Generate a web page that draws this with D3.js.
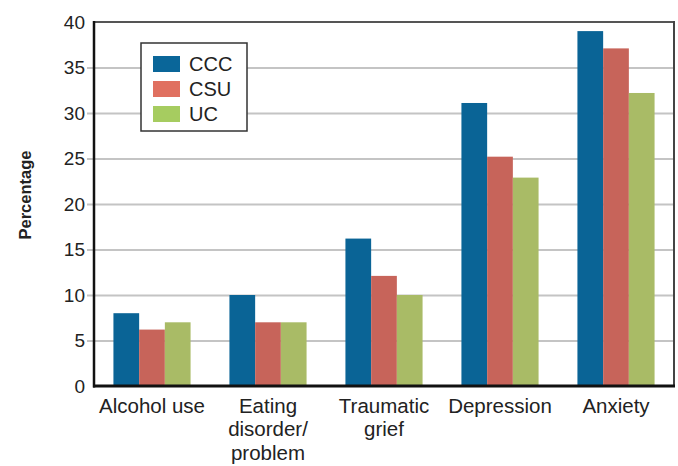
<!DOCTYPE html>
<html>
<head>
<meta charset="utf-8">
<script src="https://cdn.jsdelivr.net/npm/d3@7"></script>
<style>
  html, body { margin: 0; padding: 0; background: #fff; }
  svg { display: block; }
  text { font-family: "Liberation Sans", Arial, sans-serif; fill: #222; }
</style>
</head>
<body>
<svg id="chart" width="678" height="466"></svg>
<script>
// Percentage of students reporting each problem, by system
const categories = ["Alcohol use", "Eating disorder/ problem", "Traumatic grief", "Depression", "Anxiety"];
const categoryLines = [["Alcohol use"], ["Eating", "disorder/", "problem"], ["Traumatic", "grief"], ["Depression"], ["Anxiety"]];
const seriesNames = ["CCC", "CSU", "UC"];
const cccValues = [8, 10, 16.2, 31.1, 39];
const csuValues = [6.2, 7, 12.1, 25.2, 37.1];
const ucValues = [7, 7, 10, 22.9, 32.2];
const yTicks = [0, 5, 10, 15, 20, 25, 30, 35, 40];

const barColors = { CCC: "#0a6496", CSU: "#c7645a", UC: "#a9bb66" };
const swatchColors = { CCC: "#0a6699", CSU: "#e07060", UC: "#a6cc60" };

const values = { CCC: cccValues, CSU: csuValues, UC: ucValues };
const rows = categories.map((c, i) => ({
  category: c,
  lines: categoryLines[i],
  bars: seriesNames.map(s => ({ key: s, value: values[s][i] }))
}));

const svg = d3.select("#chart");
const plot = { left: 94, right: 674, top: 22, bottom: 386 };

const y = d3.scaleLinear().domain([0, 40]).range([plot.bottom, plot.top]);
const x0 = d3.scaleBand().domain(categories).range([plot.left, plot.right])
  .paddingInner(0.335).paddingOuter(0.1675);
const x1 = d3.scaleBand().domain(seriesNames).range([0, x0.bandwidth()]).padding(0);

// horizontal gridlines (extending slightly left as ticks)
const grid = svg.append("g").attr("transform", `translate(${plot.left},0)`)
  .call(d3.axisLeft(y).tickValues(yTicks.filter(t => t > 0 && t < 40))
    .tickSize(-(plot.right - plot.left)).tickFormat(""));
grid.select(".domain").remove();
grid.selectAll("line").attr("stroke", "#c4c4c4").attr("stroke-width", 2)
  .attr("x1", -7);

// bars
svg.append("g").selectAll("g").data(rows).join("g")
  .attr("transform", d => `translate(${x0(d.category)},0)`)
  .selectAll("rect").data(d => d.bars).join("rect")
  .attr("x", d => x1(d.key))
  .attr("y", d => y(d.value))
  .attr("width", x1.bandwidth())
  .attr("height", d => y(0) - y(d.value))
  .attr("fill", d => barColors[d.key]);

// frame: dark gray top/right, black left/bottom
svg.append("line").attr("x1", plot.left - 1).attr("x2", plot.right).attr("y1", plot.top).attr("y2", plot.top)
  .attr("stroke", "#555").attr("stroke-width", 2);
svg.append("line").attr("x1", plot.right).attr("x2", plot.right).attr("y1", plot.top - 1).attr("y2", plot.bottom)
  .attr("stroke", "#444").attr("stroke-width", 2);

// y axis labels
const yAxis = svg.append("g").attr("transform", `translate(${plot.left},0)`)
  .call(d3.axisLeft(y).tickValues(yTicks).tickSize(0).tickPadding(9));
yAxis.select(".domain").remove();
yAxis.selectAll("text").style("font-size", "19px").attr("fill", "#222")
  .style("font-family", "'Liberation Sans', Arial, sans-serif");

svg.append("line").attr("x1", plot.left).attr("x2", plot.left).attr("y1", plot.top - 1).attr("y2", plot.bottom + 1.5)
  .attr("stroke", "#111").attr("stroke-width", 2.5);
svg.append("line").attr("x1", plot.left - 1).attr("x2", plot.right + 1).attr("y1", plot.bottom).attr("y2", plot.bottom)
  .attr("stroke", "#111").attr("stroke-width", 3);

// x category labels
const xAxis = svg.append("g").attr("transform", `translate(0,${plot.bottom})`)
  .call(d3.axisBottom(x0).tickSize(0).tickFormat(""));
xAxis.select(".domain").remove();
xAxis.selectAll(".tick").each(function(d, i) {
  const t = d3.select(this).append("text")
    .attr("text-anchor", "middle").style("font-size", "20.5px").attr("fill", "#222");
  categoryLines[i].forEach((ln, j) => {
    t.append("tspan").attr("x", 0).attr("y", 27 + j * 23.4).text(ln);
  });
});

// y axis title
svg.append("text")
  .attr("transform", `translate(31,195) rotate(-90)`)
  .attr("text-anchor", "middle")
  .style("font-size", "16.5px").style("font-weight", "bold")
  .text("Percentage");

// legend
const legend = svg.append("g").attr("transform", "translate(141,43)");
legend.append("rect").attr("x", 0).attr("y", 0).attr("width", 106).attr("height", 88)
  .attr("fill", "#fff").attr("stroke", "#333").attr("stroke-width", 1.5);
const li = legend.selectAll("g.item").data(seriesNames).join("g").attr("class", "item")
  .attr("transform", (d, i) => `translate(12,${13 + i * 25})`);
li.append("rect").attr("width", 27).attr("height", 16).attr("fill", d => swatchColors[d]);
li.append("text").attr("x", 36).attr("y", 15).style("font-size", "20px").attr("fill", "#222").text(d => d);
</script>
</body>
</html>
